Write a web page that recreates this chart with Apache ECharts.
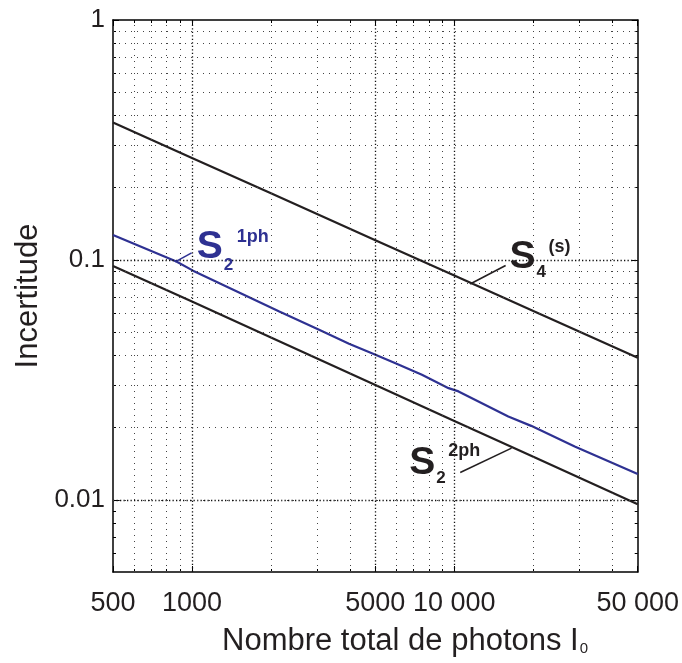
<!DOCTYPE html>
<html><head><meta charset="utf-8">
<script src="https://cdn.jsdelivr.net/npm/echarts@6/dist/echarts.min.js"></script>
<style>html,body{margin:0;padding:0;background:#fff}#c{width:682px;height:663px}</style>
</head><body><div id="c"></div>
<script>
// ---- data ----
const xTickValues = [500, 1000, 5000, 10000, 50000];
const xTickLabels = ['500', '1000', '5000', '10 000', '50 000'];
const yTickValues = [0.01, 0.1, 1];
const yTickLabels = ['0.01', '0.1', '1'];
const xMajorGrid = [1000, 5000, 10000];
const xMinorGrid = [600, 700, 800, 900, 2000, 3000, 4000, 6000, 7000, 8000, 9000, 20000, 30000, 40000];
const yMajorGrid = [0.01, 0.1];
const yMinorGrid = [0.006, 0.007, 0.008, 0.009, 0.02, 0.03, 0.04, 0.05, 0.06, 0.07, 0.08, 0.09, 0.2, 0.3, 0.4, 0.5, 0.6, 0.7, 0.8, 0.9];

const s4Photons = [500, 1000, 2000, 5000, 10000, 20000, 50000];
const s4Values = [0.374, 0.266, 0.1895, 0.1208, 0.0860, 0.0612, 0.0391];
const s2TwoPhPhotons = [500, 1000, 2000, 5000, 10000, 20000, 50000];
const s2TwoPhValues = [0.0944, 0.0670, 0.0475, 0.0301, 0.0213, 0.0151, 0.00959];
const s2OnePhPhotons = [500, 872, 1009, 2152, 3052, 3967, 5005, 5966, 7526, 9506, 10374, 16057, 19627, 28760, 50000];
const s2OnePhValues = [0.1271, 0.0984, 0.0902, 0.0609, 0.0511, 0.0447, 0.0402, 0.0371, 0.0332, 0.0292, 0.0283, 0.02224, 0.02033, 0.01668, 0.0128];

const leaderS2OnePh = [[863, 0.0981], [997, 0.107]];
const leaderS4 = [[11488, 0.0794], [15684, 0.0947]];
const leaderS2TwoPh = [[16524, 0.01642], [10531, 0.0130]];

const xMin = 500, xMax = 50000, yMin = 0.005, yMax = 1;
const FONT = '"Liberation Sans", Arial, Helvetica, sans-serif';
const INK = '#231f20';
const BLUE = '#2e3192';

const zip = (a, b) => a.map((v, i) => [v, b[i]]);
const findLabel = (vals, labels, v) => {
  const i = vals.findIndex(t => Math.abs(t - v) / t < 1e-6);
  return i >= 0 ? labels[i] : '';
};

function xAx(pos, ticks, len, withLine, withLabels) {
  return {
    type: 'log', logBase: 10, min: xMin, max: xMax, position: pos,
    axisLine: { show: withLine, onZero: false, lineStyle: { color: '#000', width: 1.5 } },
    axisTick: { show: true, inside: true, length: len, customValues: ticks, lineStyle: { color: '#000', width: 1 } },
    axisLabel: withLabels ? {
      show: true, customValues: xTickValues, margin: 18,
      formatter: v => findLabel(xTickValues, xTickLabels, v),
      fontSize: 27, fontFamily: FONT, color: INK
    } : { show: false },
    splitLine: { show: false }, minorTick: { show: false }
  };
}
function yAx(pos, ticks, len, withLine, withLabels) {
  const a = {
    type: 'log', logBase: 10, min: yMin, max: yMax, position: pos,
    axisLine: { show: withLine, onZero: false, lineStyle: { color: '#000', width: 1.5 } },
    axisTick: { show: true, inside: true, length: len, customValues: ticks, lineStyle: { color: '#000', width: 1 } },
    axisLabel: withLabels ? {
      show: true, customValues: yTickValues, margin: 8,
      formatter: v => findLabel(yTickValues, yTickLabels, v),
      fontSize: 26, fontFamily: FONT, color: INK
    } : { show: false },
    splitLine: { show: false }, minorTick: { show: false }
  };
  if (withLabels) {
    a.name = 'Incertitude';
    a.nameLocation = 'middle';
    a.nameGap = 66;
    a.nameTextStyle = { fontSize: 31, fontFamily: FONT, color: INK };
  }
  return a;
}

const gridMarks = []
  .concat(xMajorGrid.map(v => ({ xAxis: v, lineStyle: { color: '#111', width: 1.3, type: [1.3, 2.2] } })))
  .concat(xMinorGrid.map(v => ({ xAxis: v, lineStyle: { color: '#444', width: 1, type: [1, 5] } })))
  .concat(yMajorGrid.map(v => ({ yAxis: v, lineStyle: { color: '#111', width: 1.3, type: [1.3, 2.2] } })))
  .concat(yMinorGrid.map(v => ({ yAxis: v, lineStyle: { color: '#444', width: 1, type: [1, 5] } })));

function leader(pts, color) {
  return {
    silent: true, symbol: 'none', animation: false, label: { show: false },
    lineStyle: { color: color, width: 1.6, type: 'solid' },
    data: [[{ coord: pts[0] }, { coord: pts[1] }]]
  };
}

const option = {
  animation: false,
  backgroundColor: '#fff',
  grid: { left: 113, top: 20, right: 42, bottom: 91, containLabel: false },
  xAxis: [
    xAx('bottom', [500, 1000, 5000, 10000, 50000], 6, true, true),
    xAx('bottom', xMinorGrid, 3, false, false),
    xAx('top', [500, 1000, 5000, 10000, 50000], 6, true, false),
    xAx('top', xMinorGrid, 3, false, false)
  ],
  yAxis: [
    yAx('left', [0.01, 0.1, 1], 6, true, true),
    yAx('left', yMinorGrid, 3, false, false),
    yAx('right', [0.01, 0.1, 1], 6, true, false),
    yAx('right', yMinorGrid, 3, false, false)
  ],
  series: [
    {
      name: 'grid', type: 'line', data: [], z: 0, silent: true,
      markLine: { silent: true, symbol: 'none', animation: false, label: { show: false }, data: gridMarks }
    },
    {
      name: 'S4(s)', type: 'line', xAxisIndex: 0, yAxisIndex: 0, z: 3,
      data: zip(s4Photons, s4Values), showSymbol: false, symbol: 'none',
      lineStyle: { color: INK, width: 2.2 }, markLine: leader(leaderS4, INK)
    },
    {
      name: 'S2 1ph', type: 'line', xAxisIndex: 0, yAxisIndex: 0, z: 3,
      data: zip(s2OnePhPhotons, s2OnePhValues), showSymbol: false, symbol: 'none',
      lineStyle: { color: BLUE, width: 2.2 }, markLine: leader(leaderS2OnePh, BLUE)
    },
    {
      name: 'S2 2ph', type: 'line', xAxisIndex: 0, yAxisIndex: 0, z: 3,
      data: zip(s2TwoPhPhotons, s2TwoPhValues), showSymbol: false, symbol: 'none',
      lineStyle: { color: INK, width: 2.2 }, markLine: leader(leaderS2TwoPh, INK)
    }
  ]
};

const chart = echarts.init(document.getElementById('c'), null, { renderer: 'canvas' });
chart.setOption(option);

function px(p) { return chart.convertToPixel({ xAxisIndex: 0, yAxisIndex: 0 }, p); }
function txt(text, x, y, size, color, bold) {
  return {
    type: 'text', silent: true, z: 10,
    style: {
      text: text, x: x, y: y, fill: color,
      font: (bold ? 'bold ' : '') + size + 'px ' + FONT,
      align: 'left', verticalAlign: 'middle', textAlign: 'left', textVerticalAlign: 'middle'
    }
  };
}
function label(anchor, color, sub, sup, o) {
  const p = px(anchor);
  return [
    txt('S', p[0] + o.s[0], p[1] + o.s[1], 39, color, true),
    txt(sub, p[0] + o.b[0], p[1] + o.b[1], 17, color, true),
    txt(sup, p[0] + o.p[0], p[1] + o.p[1], 18, color, true)
  ];
}
const graphics = []
  .concat(label(leaderS2OnePh[1], BLUE, '2', '1ph', { s: [5, -5.5], b: [32, 12], p: [45, -16] }))
  .concat(label(leaderS4[1], INK, '4', '(s)', { s: [4, -8], b: [31, 7], p: [43, -19] }))
  .concat(label(leaderS2TwoPh[1], INK, '2', '2ph', { s: [-51, -9], b: [-24, 6], p: [-12, -21] }));
graphics.push({
  type: 'text', silent: true,
  style: {
    text: '{a|Nombre total de photons I}{b|0}',
    x: 222, y: 641, align: 'left', verticalAlign: 'middle', textAlign: 'left', textVerticalAlign: 'middle',
    rich: {
      a: { fontSize: 31, fontFamily: FONT, color: INK, fill: INK },
      b: { fontSize: 15, fontFamily: FONT, color: INK, fill: INK, verticalAlign: 'bottom', padding: [0, 0, 0, 1] }
    }
  }
});
chart.setOption({ graphic: graphics });
</script>
</body></html>
